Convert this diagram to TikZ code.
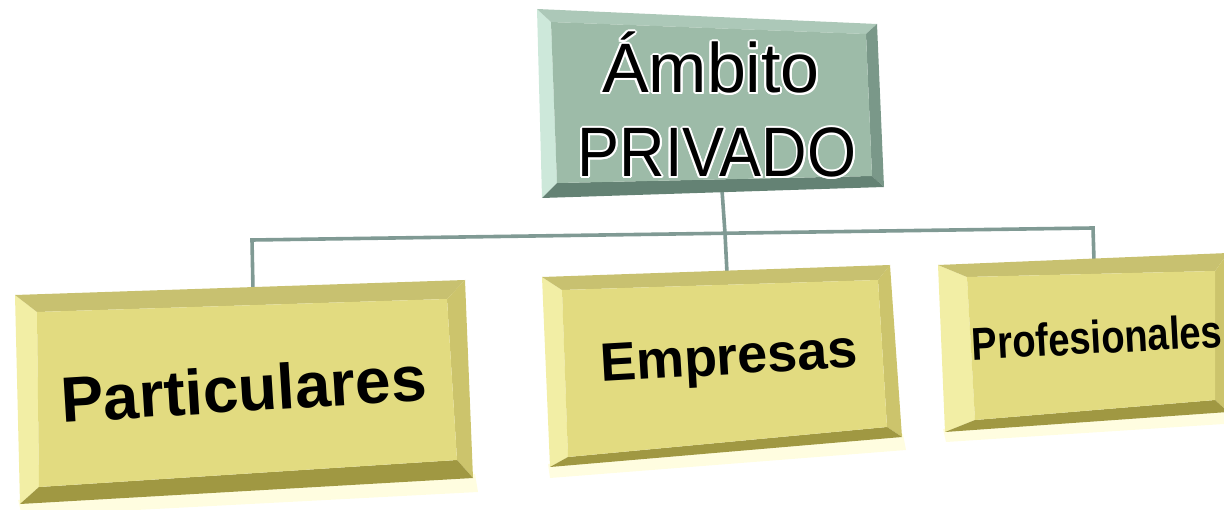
\documentclass[tikz,border=0pt]{standalone}
\usepackage{fontspec}
\setmainfont{Liberation Sans}
\usepackage{contour}
\contourlength{2pt}
\definecolor{gface}{RGB}{157,187,168}
\definecolor{gL}{RGB}{205,232,218}
\definecolor{gT}{RGB}{172,200,184}
\definecolor{gR}{RGB}{122,152,137}
\definecolor{gB}{RGB}{100,130,116}
\definecolor{yface}{RGB}{226,219,128}
\definecolor{yL}{RGB}{242,238,165}
\definecolor{yT}{RGB}{200,193,112}
\definecolor{yR}{RGB}{204,196,108}
\definecolor{yB}{RGB}{160,152,66}
\definecolor{linkc}{RGB}{128,154,148}
\tikzset{
  link/.style={draw=linkc, line width=3.6pt, line cap=butt, line join=miter},
  toptext/.style={font=\fontsize{70}{72}\selectfont, anchor=base, inner sep=0pt},
  leaftext/.style={font=\bfseries, anchor=base, inner sep=0pt, text=black},
}
% bevel box: #1 outer TL, #2 outer TR, #3 outer BR, #4 outer BL, #5-#8 inner, #9 prefix of colours
\newcommand{\bevelbox}[9]{%
  \fill[#9L] (#1) -- (#5) -- (#8) -- (#4) -- cycle;
  \fill[#9T] (#1) -- (#2) -- (#6) -- (#5) -- cycle;
  \fill[#9R] (#2) -- (#3) -- (#7) -- (#6) -- cycle;
  \fill[#9B] (#4) -- (#8) -- (#7) -- (#3) -- cycle;
  \fill[#9face] (#5) -- (#6) -- (#7) -- (#8) -- cycle;
}
\begin{document}
\begin{tikzpicture}[x=1pt,y=-1pt]
\useasboundingbox (0,0) rectangle (1224,510);
\clip (0,0) rectangle (1224,510);

% soft glow under the yellow boxes
\fill[yellow!12] (18,500) -- (475,474) -- (478,492) -- (22,516) -- cycle;
\fill[yellow!12] (548,464) -- (903,434) -- (906,450) -- (550,478) -- cycle;
\fill[yellow!12] (943,429) -- (1224,410) -- (1224,424) -- (946,442) -- cycle;

% connectors
\coordinate (topb) at (722,190);
\coordinate (jleft) at (252,240);
\coordinate (jright) at (1093,228);
\coordinate (jmid) at (725,233.3);
\coordinate (partt) at (253,290);
\coordinate (empt) at (727,273);
\coordinate (proft) at (1094,261);
\draw[link] (topb) -- (jmid) -- (empt);
\draw[link] (partt) -- (jleft) -- (jright) -- (proft);

% top box
\bevelbox{537,9}{877,24}{884,187}{542,198}{551,22}{866,34}{872,176}{557,183}{g}
\node[toptext] (ambito) at (711,93) {\contour{white}{Ámbito}};
\node[toptext] (privado) at (717,177) {\scalebox{0.9}[1]{\contour{white}{PRIVADO}}};

% Particulares
\bevelbox{15,295}{465,280}{473,478}{20,504}{37,312}{447,299}{457,460}{39,487}{y}
\node[leaftext, font=\bfseries\fontsize{64}{66}\selectfont, rotate=3.5] (part) at (245,411.5) {Particulares};

% Empresas
\bevelbox{542,277}{890,265}{902,437}{550,467}{562,290}{878,280}{887,427}{568,457}{y}
\node[leaftext, font=\bfseries\fontsize{54}{56}\selectfont, rotate=3.3] (emp) at (730,374.5) {Empresas};

% Profesionales
\bevelbox{938,265}{1228,253}{1228,412}{945,432}{967,277}{1215,271}{1215,400}{975,420}{y}
\node[leaftext, font=\bfseries\fontsize{46}{48}\selectfont, rotate=3] (prof) at (1098,353.5) {\scalebox{0.83}[1]{Profesionales}};
\end{tikzpicture}
\end{document}
